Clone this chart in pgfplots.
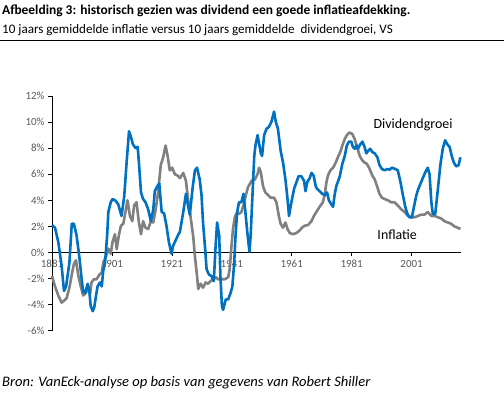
\documentclass[border=0pt]{standalone}
\usepackage{pgfplots}
\pgfplotsset{compat=1.18}
\usepackage{fontspec}
\setmainfont{Carlito}
\definecolor{divblue}{RGB}{0,112,192}
\definecolor{infgrey}{RGB}{128,128,128}
\definecolor{tickgray}{RGB}{89,89,89}
\begin{document}
\begin{tikzpicture}[x=1bp,y=1bp]
\path[use as bounding box] (0,0) rectangle (504,392);
\node[anchor=west,inner sep=0pt,font=\fontsize{13.5}{15}\selectfont\bfseries] at (2,381) {Afbeelding 3: historisch gezien was dividend een goede inflatieafdekking.};
\node[anchor=west,inner sep=0pt,font=\fontsize{13.1}{15}\selectfont] at (2,362) {10 jaars gemiddelde inflatie versus 10 jaars gemiddelde\ \ dividendgroei, VS};
\draw[line width=0.9bp] (0,351.3) -- (504,351.3);
\node[anchor=west,inner sep=0pt,font=\fontsize{14.6}{16}\selectfont\itshape] at (2,9.5) {Bron: VanEck-analyse op basis van gegevens van Robert Shiller};
\begin{axis}[
  at={(52bp,61.3bp)}, anchor=south west,
  scale only axis, width=409bp, height=234.7bp,
  xmin=1881, xmax=2017.5, ymin=-6, ymax=12,
  axis x line*=middle, axis y line*=left,
  hide obscured x ticks=false, hide obscured y ticks=false,
  xtick={1881,1901,1921,1941,1961,1981,2001},
  xticklabels={1881,1901,1921,1941,1961,1981,2001},
  ytick={-6,-4,-2,0,2,4,6,8,10,12},
  yticklabels={-6\%,-4\%,-2\%,0\%,2\%,4\%,6\%,8\%,10\%,12\%},
  tick align=outside, major tick length=4bp,
  tick style={black, line width=0.6bp},
  axis line style={black, line width=0.8bp},
  ticklabel style={font=\fontsize{11}{12}\selectfont, text=tickgray},
  clip=false,
]
\addplot[infgrey, line width=2.6bp, line join=round] coordinates {
(1881,-1.8) (1882,-2.6) (1883.1,-3.3) (1884.2,-3.85) (1885,-3.7) (1885.9,-3.5) (1886.8,-2.7) (1887.6,-1.7) (1888.3,-0.9) (1889,-0.6) (1889.8,-1.8) (1890.6,-2.6) (1891.4,-3.3) (1892.3,-3.1) (1893.1,-2.7) (1893.7,-3.2) (1894.2,-2.3) (1895,-2.05) (1895.9,-2.05) (1896.8,-1.7) (1897.6,-1.55) (1898.1,-0.8) (1899,-0.3) (1899.8,0.3) (1900.6,-0.1) (1901.2,0.8) (1902,1.4) (1902.6,0.25) (1903.3,1.3) (1904,2.05) (1904.8,2.2) (1905.5,3.1) (1906.2,4.0) (1907,2.8) (1907.8,2.4) (1908.4,3.6) (1909.2,3.85) (1910,2.3) (1910.7,1.4) (1911.4,2.4) (1912.2,1.9) (1913.1,1.8) (1914,2.4) (1914.8,2.3) (1915.6,3.3) (1916.4,4.6) (1917.3,6.7) (1918.1,7.3) (1918.9,8.2) (1919.6,7.4) (1920.3,6.3) (1921.1,6.5) (1922,6.0) (1922.9,5.9) (1923.7,5.7) (1924.8,6.1) (1925.7,5.5) (1926.4,4.1) (1927.2,2.8) (1928.1,1.3) (1928.7,-0.3) (1929.4,-1.8) (1929.8,-2.8) (1930.6,-2.4) (1931.4,-2.7) (1932.3,-2.3) (1933.1,-2.4) (1933.9,-2.2) (1934.8,-2.05) (1935.7,-1.9) (1936.4,-2.05) (1937.6,-2.05) (1938.7,-2.05) (1939.8,-1.9) (1940.3,-1.3) (1940.9,0.5) (1941.4,1.8) (1942,2.7) (1942.8,3.1) (1943.4,2.95) (1944.2,3.1) (1945,3.7) (1945.7,4.4) (1946.4,5.0) (1947.6,5.5) (1948.7,5.6) (1949.6,6.0) (1950.1,6.5) (1950.7,6.15) (1951.4,5.1) (1952.2,4.6) (1953.1,4.4) (1954,4.2) (1955.1,4.2) (1955.9,3.85) (1956.7,2.8) (1957.3,2.2) (1958.1,1.9) (1958.9,2.3) (1959.6,1.8) (1960.3,1.5) (1961.4,1.4) (1962.6,1.5) (1963.7,1.7) (1964.4,1.9) (1965.3,2.05) (1966.4,2.1) (1967.6,2.4) (1968.4,2.8) (1969.2,3.1) (1970.3,3.5) (1971.4,3.85) (1972,4.4) (1972.6,5.4) (1973.1,5.9) (1973.9,6.3) (1974.8,6.5) (1975.7,6.9) (1976.4,7.3) (1977.2,7.7) (1977.9,8.2) (1978.7,8.7) (1979.4,9.0) (1980.3,9.2) (1981.2,9.1) (1982,8.7) (1982.8,8.1) (1983.7,7.4) (1984.6,7.05) (1985.3,6.9) (1986.1,6.8) (1987,6.4) (1987.9,5.9) (1988.7,5.6) (1989.6,5.0) (1990.3,4.5) (1991.1,4.2) (1992,4.1) (1993.1,4.0) (1994.2,3.85) (1995.3,3.85) (1996.4,3.6) (1997.6,3.3) (1998.7,3.1) (1999.8,2.8) (2000.9,2.7) (2002,2.7) (2003.1,2.8) (2004.2,2.9) (2005.3,2.9) (2006.4,3.1) (2007.6,2.8) (2008.7,2.8) (2009.8,2.7) (2010.9,2.6) (2012,2.4) (2013.1,2.3) (2014.2,2.2) (2015.3,2.0) (2016.4,1.9) (2017.3,1.8)
};
\addplot[divblue, line width=2.6bp, line join=round] coordinates {
(1881,2.1) (1882,1.9) (1883.1,0.8) (1884.2,-1.0) (1885,-2.95) (1885.7,-2.6) (1886.8,-0.8) (1887.6,2.2) (1888.3,2.2) (1889.2,1.3) (1890.1,-0.3) (1890.9,-2.05) (1891.4,-3.0) (1892.1,-3.1) (1892.9,-2.4) (1893.4,-2.8) (1893.9,-4.1) (1894.6,-4.5) (1895.1,-4.2) (1895.7,-3.3) (1896.2,-2.6) (1897,-2.3) (1897.6,-2.6) (1898.1,-1.4) (1898.7,-0.8) (1899.4,1.3) (1899.8,3.1) (1900.6,3.85) (1901.2,4.1) (1902.1,4.0) (1903.1,3.7) (1904.2,2.8) (1905.1,4.3) (1905.9,6.9) (1906.7,9.3) (1907.3,8.9) (1908,8.3) (1908.9,8.0) (1909.6,8.1) (1910,6.9) (1910.7,4.6) (1911.4,4.1) (1912.2,3.85) (1913.1,3.3) (1914,2.4) (1914.8,3.3) (1915.3,4.7) (1916.2,5.1) (1916.8,5.3) (1917.6,3.1) (1918.4,3.0) (1919.2,2.05) (1920,0.8) (1920.9,-0.1) (1921.4,0.5) (1922.2,0.9) (1923,1.3) (1923.7,1.6) (1924.8,3.1) (1925.7,4.5) (1926.4,3.6) (1927,2.9) (1927.9,4.9) (1928.7,6.3) (1929.4,6.5) (1930.3,5.6) (1930.9,4.4) (1931.4,2.3) (1932.1,0.3) (1932.6,-1.3) (1933.4,-1.7) (1934.2,-1.8) (1935,-2.2) (1935.6,0.5) (1936.1,2.3) (1936.8,1.3) (1937.2,-1.8) (1937.7,-4.1) (1938.1,-4.4) (1939,-3.6) (1939.8,-3.6) (1940.6,-3.1) (1941.2,-2.6) (1941.8,-0.8) (1942.3,1.5) (1942.8,3.1) (1943.4,3.85) (1944.2,3.85) (1944.9,4.5) (1945.5,3.2) (1946.2,1.5) (1946.9,0.05) (1947.3,1.3) (1948,4.9) (1948.5,7.4) (1948.9,8.2) (1949.6,9.0) (1950,8.5) (1950.7,7.6) (1951.1,7.4) (1951.8,9.0) (1952.6,9.5) (1953.3,9.6) (1954.2,10.0) (1955.1,10.8) (1955.7,10.0) (1956.4,9.5) (1957.3,7.8) (1958.1,6.9) (1958.9,5.6) (1959.6,4.1) (1960.1,2.8) (1960.9,3.85) (1961.8,4.9) (1962.6,5.4) (1963.3,5.85) (1964.2,5.85) (1965.1,5.5) (1965.6,4.7) (1966.2,5.4) (1967,5.7) (1967.6,6.1) (1968.3,5.9) (1969,5.1) (1969.4,4.9) (1970.3,4.7) (1971.2,4.5) (1972,4.4) (1972.8,4.6) (1973.4,4.0) (1974.2,3.7) (1974.8,3.5) (1975.3,4.4) (1975.9,5.1) (1977,5.8) (1977.9,6.8) (1978.7,7.4) (1979.4,8.2) (1980.1,8.5) (1980.9,8.5) (1981.4,8.1) (1982,7.95) (1982.6,8.2) (1983.1,7.95) (1983.9,8.3) (1984.6,8.5) (1985.3,8.1) (1985.9,7.6) (1986.5,7.8) (1987.2,7.95) (1987.9,7.7) (1988.7,7.6) (1989.6,7.3) (1990.3,6.7) (1991.1,6.4) (1992,6.3) (1992.9,6.4) (1993.7,6.35) (1994.4,6.5) (1995.6,6.4) (1996.4,6.3) (1997.3,5.4) (1998.1,4.4) (1998.9,3.5) (1999.6,2.95) (2000.3,2.7) (2001.1,2.7) (2001.8,3.5) (2002.6,4.4) (2003.3,4.9) (2004.2,5.4) (2005.1,5.9) (2005.9,6.3) (2006.4,6.5) (2007,6.0) (2007.6,3.85) (2008.1,2.95) (2008.9,2.95) (2009.8,4.9) (2010.6,6.7) (2011.4,7.95) (2012.2,8.6) (2012.9,8.3) (2013.7,8.1) (2014.4,7.4) (2015.1,6.9) (2015.9,6.6) (2016.7,6.7) (2017.3,7.3)
};
\node[font=\fontsize{14}{16}\selectfont] at (axis cs:2001.5,9.8) {Dividendgroei};
\node[font=\fontsize{14}{16}\selectfont] at (axis cs:1996.2,1.36) {Inflatie};
\end{axis}
\end{tikzpicture}
\end{document}
